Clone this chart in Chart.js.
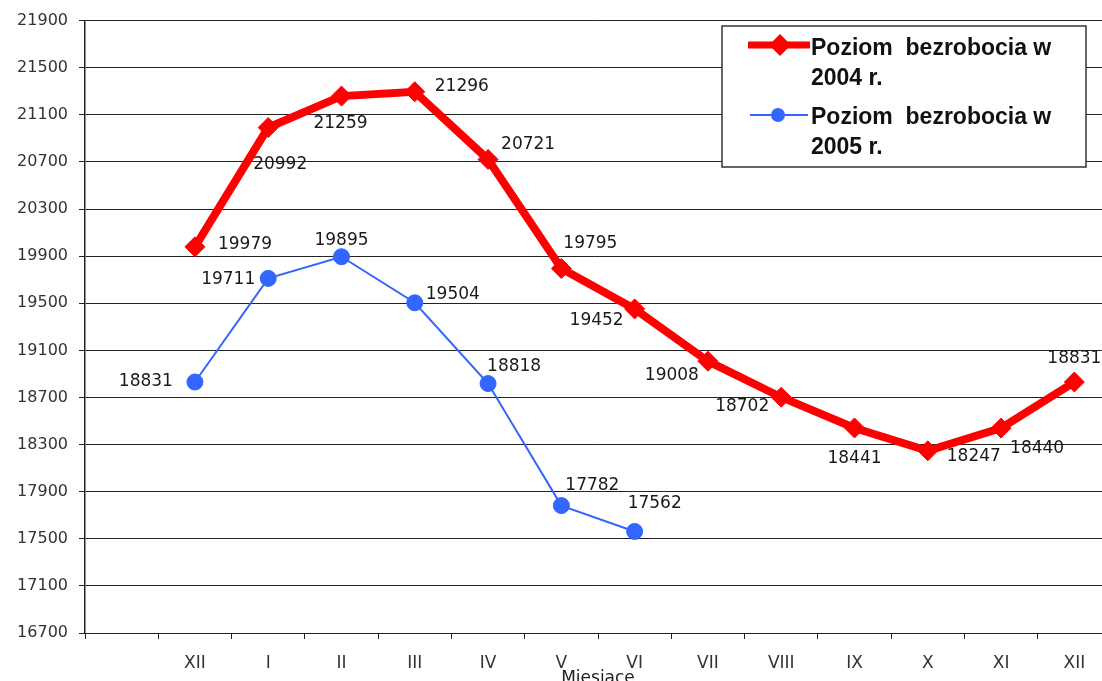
<!DOCTYPE html>
<html>
<head>
<meta charset="utf-8">
<script src="https://cdn.jsdelivr.net/npm/chart.js@4/dist/chart.umd.min.js"></script>
<style>
    html, body { margin: 0; padding: 0; background: #fff; overflow: hidden; }
    #chart { display: block; width: 1102px; height: 681px; }
</style>
</head>
<body>
<canvas id="chart" width="1102" height="681"></canvas>
<script>
// Chart data
const months = ["", "XII", "I", "II", "III", "IV", "V", "VI", "VII", "VIII", "IX", "X", "XI", "XII"];
const bezrobocie2004 = [null, 19979, 20992, 21259, 21296, 20721, 19795, 19452, 19008, 18702, 18441, 18247, 18440, 18831];
const bezrobocie2005 = [null, 18831, 19711, 19895, 19504, 18818, 17782, 17562, null, null, null, null, null, null];
const legend2004 = ["Poziom  bezrobocia w", "2004 r."];
const legend2005 = ["Poziom  bezrobocia w", "2005 r."];
const yMin = 16700, yMax = 21900, yStep = 400;

// label placement per point: [dx, dy, align]
const labelPos2004 = [null, [23, -2, "left"], [12, 37, "center"], [-1, 27, "center"], [20, -5, "left"],
    [13, -15, "left"], [2, -25, "left"], [-11, 12, "right"], [-9, 14, "right"], [-12, 9, "right"],
    [0, 31, "center"], [19, 6, "left"], [9, 20, "left"], [0, -23, "center"]];
const labelPos2005 = [null, [-22, 0, "right"], [-13, 1, "right"], [0, -16, "center"], [11, -8, "left"],
    [-1, -17, "left"], [4, -20, "left"], [-7, -28, "left"]];

const RED = "#ff0000";
const BLUE = "#3366ff";

/**
 * The original is cropped: plot area runs ~9px past the right edge
 */
const extendRight = {
    id: "extendRight",
    afterLayout(chart) {
        const extra = 9;
        const x = chart.scales.x;
        x.right += extra;
        x.width = x.right - x.left;
        x.configure();
        chart.chartArea.right += extra;
        chart.chartArea.width = chart.chartArea.right - chart.chartArea.left;
    }
};

/**
 * Point value labels
 */
const valueLabels = {
    id: "valueLabels",
    afterDatasetsDraw(chart) {
        const ctx = chart.ctx;
        ctx.save();
        ctx.font = "17px 'DejaVu Sans'";
        ctx.fillStyle = "#1a1a1a";
        ctx.textBaseline = "middle";
        chart.data.datasets.forEach((ds, di) => {
            const meta = chart.getDatasetMeta(di);
            const pos = di === 0 ? labelPos2004 : labelPos2005;
            meta.data.forEach((pt, i) => {
                const v = ds.data[i];
                if (v === null || v === undefined || !pos[i]) return;
                ctx.textAlign = pos[i][2];
                ctx.fillText(String(v), pt.x + pos[i][0], pt.y + pos[i][1]);
            });
        });
        ctx.restore();
    }
};

/**
 * Legend box with wrapped labels
 */
const boxLegend = {
    id: "boxLegend",
    afterDraw(chart) {
        const ctx = chart.ctx;
        const x = 722, y = 26, w = 364, h = 141;
        ctx.save();
        ctx.fillStyle = "#fff";
        ctx.fillRect(x, y, w, h);
        ctx.strokeStyle = "#333";
        ctx.lineWidth = 1.5;
        ctx.strokeRect(x, y, w, h);

        // 2004 sample
        ctx.strokeStyle = RED;
        ctx.lineWidth = 7;
        ctx.beginPath();
        ctx.moveTo(748, 45);
        ctx.lineTo(810, 45);
        ctx.stroke();
        Chart.helpers.drawPoint(ctx, { pointStyle: "rectRot", radius: 6, borderWidth: 1 }, 780, 45);
        ctx.fillStyle = RED;
        ctx.fill();

        // 2005 sample
        ctx.strokeStyle = BLUE;
        ctx.lineWidth = 2;
        ctx.beginPath();
        ctx.moveTo(750, 115);
        ctx.lineTo(808, 115);
        ctx.stroke();
        ctx.fillStyle = BLUE;
        ctx.beginPath();
        ctx.arc(778, 115, 7, 0, Math.PI * 2);
        ctx.fill();

        ctx.fillStyle = "#111";
        ctx.font = "bold 23px 'Liberation Sans'";
        ctx.textAlign = "left";
        ctx.textBaseline = "middle";
        ctx.fillText(legend2004[0], 811, 49);
        ctx.fillText(legend2004[1], 811, 79);
        ctx.fillText(legend2005[0], 811, 118);
        ctx.fillText(legend2005[1], 811, 148);
        ctx.restore();
    }
};

new Chart(document.getElementById("chart"), {
    type: "line",
    data: {
        labels: months,
        datasets: [
            {
                label: legend2004.join(" "),
                data: bezrobocie2004,
                borderColor: RED,
                backgroundColor: RED,
                borderWidth: 8,
                pointStyle: "rectRot",
                pointRadius: 10,
                pointBorderWidth: 1,
                pointBackgroundColor: RED,
                pointBorderColor: RED,
                tension: 0,
                spanGaps: false
            },
            {
                label: legend2005.join(" "),
                data: bezrobocie2005,
                borderColor: BLUE,
                backgroundColor: BLUE,
                borderWidth: 2,
                pointStyle: "circle",
                pointRadius: 8,
                pointBorderWidth: 1,
                pointBackgroundColor: BLUE,
                pointBorderColor: BLUE,
                tension: 0,
                spanGaps: false
            }
        ]
    },
    options: {
        responsive: false,
        maintainAspectRatio: false,
        animation: false,
        devicePixelRatio: 1,
        layout: { padding: { top: 18, right: 0, left: 0, bottom: 0 }, autoPadding: false },
        plugins: {
            legend: { display: false },
            tooltip: { enabled: false }
        },
        scales: {
            x: {
                type: "category",
                offset: true,
                afterFit: s => { s.height = 48; },
                grid: { offset: true, drawOnChartArea: false, drawTicks: true, tickLength: 6, color: "#222", lineWidth: 1 },
                border: { display: true, color: "#222", width: 1 },
                ticks: { color: "#333", font: { family: "DejaVu Sans", size: 17 }, padding: 14, maxRotation: 0, autoSkip: false },
                title: { display: true, text: "Miesiace", color: "#222", font: { family: "DejaVu Sans", size: 17 }, padding: { top: 0, bottom: -8 } }
            },
            y: {
                min: yMin,
                max: yMax,
                afterFit: s => { s.width = 85; },
                grid: { color: "#222", lineWidth: 1, tickLength: 6 },
                border: { display: true, color: "#222", width: 1.5 },
                ticks: { stepSize: yStep, color: "#333", font: { family: "DejaVu Sans", size: 16 }, padding: 11, callback: v => String(v) }
            }
        }
    },
    plugins: [extendRight, valueLabels, boxLegend]
});
</script>
</body>
</html>
